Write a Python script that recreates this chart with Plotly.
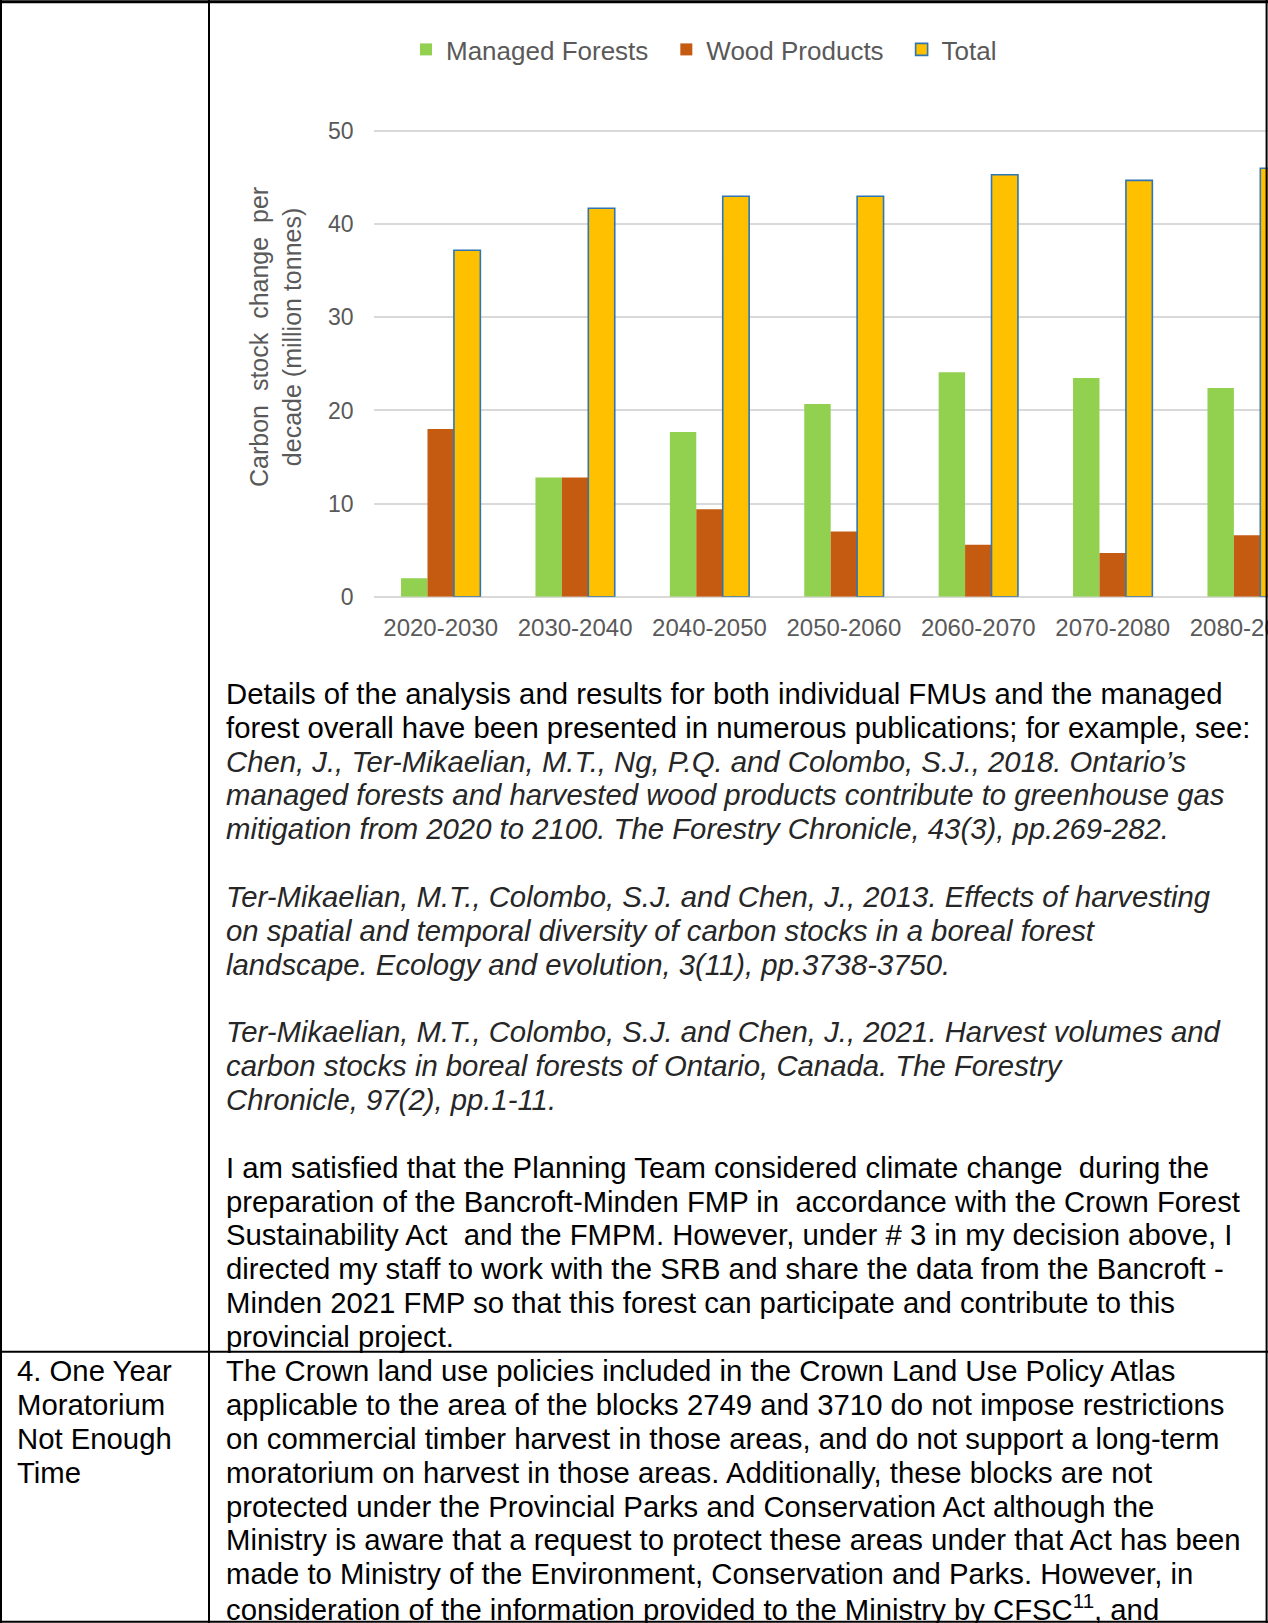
import plotly.graph_objects as go

W, H = 1268, 1623

# ---------------- chart data ----------------
categories = ["2020-2030", "2030-2040", "2040-2050", "2050-2060",
              "2060-2070", "2070-2080", "2080-2090"]
managed_forests = [2.0, 12.8, 17.7, 20.7, 24.1, 23.5, 22.4]
wood_products = [18.0, 12.8, 9.4, 7.0, 5.6, 4.7, 6.6]
total = [37.2, 41.7, 43.0, 43.0, 45.3, 44.7, 46.0]
y_ticks = [0, 10, 20, 30, 40, 50]

series_names = ["Managed Forests", "Wood Products", "Total"]
series_colors = ["#92D050", "#C55A11", "#FFC000"]
total_outline = "#2E75B6"

y_title = "Carbon \u00a0stock \u00a0change \u00a0per<br>decade (million tonnes)"

# ---------------- document text ----------------
row1_lines = [
    ("Details of the analysis and results for both individual FMUs and the managed", False),
    ("forest overall have been presented in numerous publications; for example, see:", False),
    ("Chen, J., Ter-Mikaelian, M.T., Ng, P.Q. and Colombo, S.J., 2018. Ontario\u2019s", True),
    ("managed forests and harvested wood products contribute to greenhouse gas", True),
    ("mitigation from 2020 to 2100. The Forestry Chronicle, 43(3), pp.269-282.", True),
    ("", False),
    ("Ter-Mikaelian, M.T., Colombo, S.J. and Chen, J., 2013. Effects of harvesting", True),
    ("on spatial and temporal diversity of carbon stocks in a boreal forest", True),
    ("landscape. Ecology and evolution, 3(11), pp.3738-3750.", True),
    ("", False),
    ("Ter-Mikaelian, M.T., Colombo, S.J. and Chen, J., 2021. Harvest volumes and", True),
    ("carbon stocks in boreal forests of Ontario, Canada. The Forestry", True),
    ("Chronicle, 97(2), pp.1-11.", True),
    ("", False),
    ("I am satisfied that the Planning Team considered climate change \u00a0during the", False),
    ("preparation of the Bancroft-Minden FMP in \u00a0accordance with the Crown Forest", False),
    ("Sustainability Act \u00a0and the FMPM. However, under # 3 in my decision above, I", False),
    ("directed my staff to work with the SRB and share the data from the Bancroft -", False),
    ("Minden 2021 FMP so that this forest can participate and contribute to this", False),
    ("provincial project.", False),
]
row2_lines = [
    "The Crown land use policies included in the Crown Land Use Policy Atlas",
    "applicable to the area of the blocks 2749 and 3710 do not impose restrictions",
    "on commercial timber harvest in those areas, and do not support a long-term",
    "moratorium on harvest in those areas. Additionally, these blocks are not",
    "protected under the Provincial Parks and Conservation Act although the",
    "Ministry is aware that a request to protect these areas under that Act has been",
    "made to Ministry of the Environment, Conservation and Parks. However, in",
    "consideration of the information provided to the Ministry by CFSC<sup>11</sup>, and",
]
row2_label = ["4. One Year", "Moratorium", "Not Enough", "Time"]


def fx(x):
    return x / W


def fy(y):
    return 1 - y / H


FONT = "Liberation Sans, Arial, sans-serif"
GRAY = "#595959"

fig = go.Figure()
for name, vals, col in zip(series_names, [managed_forests, wood_products, total], series_colors):
    is_total = name == "Total"
    fig.add_trace(go.Bar(
        x=categories, y=vals,
        name=name + "\u2002",   # en space widens the gap to the next legend entry
        marker=dict(color=col,
                    line=dict(color=total_outline if is_total else col,
                              width=1.6 if is_total else 0)),
        hoverinfo="skip",
    ))

# plot geometry (pixels)
x0_px = 373.5
y0_px = 596.8
unit_px = 9.316
ymax = 52
ytop_px = y0_px - ymax * unit_px
cat_px = 134.4
x_end = -0.5 + (W - x0_px) / cat_px

annotations = []
annotations.append(dict(
    x=fx(275), y=fy(337), xref="paper", yref="paper", text=y_title,
    textangle=-90, showarrow=False, xanchor="center", yanchor="middle",
    font=dict(family=FONT, size=25, color=GRAY), align="center",
))

line_h = 33.85
row1_start = 693.3
row2_start = 1370.6
text_x = 224
for i, (txt, ital) in enumerate(row1_lines):
    if not txt:
        continue
    annotations.append(dict(
        x=fx(text_x), y=fy(row1_start + i * line_h), xref="paper", yref="paper",
        text=txt, showarrow=False, xanchor="left", yanchor="middle",
        font=dict(family=FONT, size=29.3, color="#262626" if ital else "#000000",
                  style="italic" if ital else "normal"),
    ))
for k, txt in enumerate(row2_lines):
    annotations.append(dict(
        x=fx(text_x), y=fy(row2_start + k * line_h), xref="paper", yref="paper",
        text=txt, showarrow=False, xanchor="left", yanchor="middle",
        font=dict(family=FONT, size=29.3, color="#000000"),
    ))
for k, txt in enumerate(row2_label):
    annotations.append(dict(
        x=fx(15), y=fy(row2_start + k * line_h), xref="paper", yref="paper",
        text=txt, showarrow=False, xanchor="left", yanchor="middle",
        font=dict(family=FONT, size=29.3, color="#000000"),
    ))

border = dict(color="#000000", width=2)
shapes = [
    dict(type="line", xref="paper", yref="paper", x0=0, x1=1, y0=fy(1.8), y1=fy(1.8),
         line=dict(color="#000000", width=3)),
    dict(type="line", xref="paper", yref="paper", x0=fx(1), x1=fx(1), y0=0, y1=1, line=border),
    dict(type="line", xref="paper", yref="paper", x0=fx(1266.6), x1=fx(1266.6), y0=0, y1=1, line=border),
    dict(type="line", xref="paper", yref="paper", x0=fx(209), x1=fx(209), y0=0, y1=1, line=border),
    dict(type="line", xref="paper", yref="paper", x0=0, x1=1, y0=fy(1351.7), y1=fy(1351.7), line=border),
    dict(type="line", xref="paper", yref="paper", x0=0, x1=1, y0=fy(1621.7), y1=fy(1621.7), line=border),
]

fig.update_layout(
    width=W, height=H, autosize=False,
    margin=dict(l=0, r=0, t=0, b=0, pad=0),
    paper_bgcolor="white", plot_bgcolor="white",
    barmode="group", bargap=0.41, bargroupgap=0,
    font=dict(family=FONT, color=GRAY),
    showlegend=True,
    legend=dict(orientation="h", x=fx(406), xanchor="left", y=fy(49.5), yanchor="middle",
                font=dict(family=FONT, size=26, color=GRAY),
                bgcolor="rgba(0,0,0,0)", traceorder="normal"),
    xaxis=dict(domain=[fx(x0_px), 1], range=[-0.5, x_end], type="category",
               showgrid=False, showline=False, zeroline=False, ticks="",
               tickangle=0, tickfont=dict(family=FONT, size=24, color=GRAY),
               ticklabelstandoff=14, automargin=False),
    yaxis=dict(domain=[fy(y0_px), fy(ytop_px)], range=[0, ymax],
               tickvals=y_ticks, showgrid=True, gridcolor="#D9D9D9", gridwidth=1.5,
               zeroline=True, zerolinecolor="#D9D9D9", zerolinewidth=1.5,
               showline=False, ticks="", tickfont=dict(family=FONT, size=23, color=GRAY),
               ticklabelstandoff=19, automargin=False),
    annotations=annotations,
    shapes=shapes,
)

fig.write_html("out.html", config={"displayModeBar": False})
